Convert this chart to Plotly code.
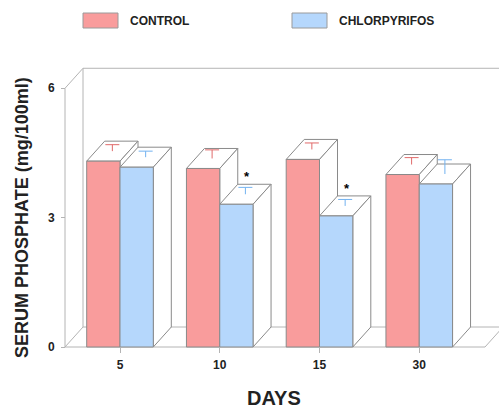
import plotly.graph_objects as go

# ---------------- data ----------------
days = ["5", "10", "15", "30"]
control = [4.31, 4.14, 4.35, 4.00]
chlorpyrifos = [4.17, 3.31, 3.04, 3.78]
control_err = [0.15, 0.20, 0.15, 0.16]
chlorpyrifos_err = [0.14, 0.16, 0.15, 0.33]
significant = [False, True, True, False]
y_ticks = [0, 3, 6]
series_names = ["CONTROL", "CHLORPYRIFOS"]

# ---------------- style / layout ----------------
W, H = 499, 410
ML, MR, MT, MB = 45, 0, 60, 55
plotW, plotH = W - ML - MR, H - MT - MB
PX_X = 99.75      # px per category unit
X0_PX = 120.0     # pixel of first category
PX_Y = 43.12      # px per value unit
Y0_PX = 347.0     # pixel of value 0

DEPTH_X = 18 / PX_X   # 3D depth offset in data units
DEPTH_Y = 20 / PX_Y
BAR_W = 33.3 / PX_X
CAP = 7 / PX_X        # half width of error caps
Y_MAX = 6
X_LEFT = (65 - X0_PX) / PX_X
X_RIGHT = (485 - X0_PX) / PX_X

C_CTRL = "#F99C9C"
C_CHLOR = "#B5D7FC"
E_CTRL = "#E06A6A"
E_CHLOR = "#72B2F0"
EDGE = "#8a8a8a"
FRAME = "#b4b4b4"
FONT = "Liberation Sans, Arial, sans-serif"

xr = [(ML - X0_PX) / PX_X, (W - MR - X0_PX) / PX_X]
yr = [(Y0_PX - (H - MB)) / PX_Y, (Y0_PX - MT) / PX_Y]


def px_to_paper(px, py):
    return (px - ML) / plotW, (H - MB - py) / plotH


def path(points):
    return "M " + " L ".join(f"{x},{y}" for x, y in points) + " Z"


shapes = []


def line(x0, y0, x1, y1, color=FRAME):
    shapes.append(dict(type="line", xref="x", yref="y", x0=x0, y0=y0, x1=x1, y1=y1,
                       line=dict(color=color, width=1), layer="below"))


# frame: floor, back wall, y axis
dx, dy = DEPTH_X, DEPTH_Y
line(X_LEFT, 0, X_RIGHT, 0)
line(X_LEFT, 0, X_LEFT + dx, dy)
line(X_LEFT + dx, dy, X_RIGHT + dx, dy)
line(X_RIGHT, 0, X_RIGHT + dx, dy)
line(X_LEFT + dx, dy, X_LEFT + dx, Y_MAX + dy)
line(X_LEFT + dx, Y_MAX + dy, X_RIGHT + dx, Y_MAX + dy)
line(X_RIGHT + dx, dy, X_RIGHT + dx, Y_MAX + dy)
line(X_LEFT, 0, X_LEFT, Y_MAX)
line(X_LEFT, Y_MAX, X_LEFT + dx, Y_MAX + dy)

fig = go.Figure()

bar_x = {0: [], 1: []}
for i in range(len(days)):
    for s, vals in enumerate([control, chlorpyrifos]):
        v = vals[i]
        x0 = i - BAR_W + s * BAR_W
        x1 = x0 + BAR_W
        bar_x[s].append((x0 + x1) / 2)
        # top face
        shapes.append(dict(type="path", xref="x", yref="y", layer="below",
                           path=path([(x0, v), (x1, v), (x1 + dx, v + dy), (x0 + dx, v + dy)]),
                           fillcolor="white", line=dict(color=EDGE, width=1)))
        # side face
        shapes.append(dict(type="path", xref="x", yref="y", layer="below",
                           path=path([(x1, 0), (x1, v), (x1 + dx, v + dy), (x1 + dx, dy)]),
                           fillcolor="white", line=dict(color=EDGE, width=1)))

for s, (vals, col) in enumerate([(control, C_CTRL), (chlorpyrifos, C_CHLOR)]):
    fig.add_trace(go.Bar(x=bar_x[s], y=vals, width=BAR_W, name=series_names[s],
                         marker=dict(color=col, line=dict(color=EDGE, width=1)),
                         showlegend=False, hoverinfo="skip"))

# upper error bars on the top faces (mid depth): stem + cap
for s, (vals, errs, col) in enumerate([(control, control_err, E_CTRL),
                                       (chlorpyrifos, chlorpyrifos_err, E_CHLOR)]):
    ex, ey = [], []
    for bx, v, e in zip(bar_x[s], vals, errs):
        cx, base = bx + dx / 2, v + dy / 2
        ex += [cx, cx, None, cx - CAP, cx + CAP, None]
        ey += [base, base + e, None, base + e, base + e, None]
    fig.add_trace(go.Scatter(x=ex, y=ey, mode="lines", line=dict(color=col, width=1),
                             showlegend=False, hoverinfo="skip"))

annotations = []
for i, sig in enumerate(significant):
    if sig:
        annotations.append(dict(x=bar_x[1][i] + dx / 2,
                                y=chlorpyrifos[i] + dy / 2 + chlorpyrifos_err[i],
                                xref="x", yref="y", text="<b>*</b>", showarrow=False,
                                yanchor="bottom", yshift=1, xshift=2,
                                font=dict(family=FONT, size=13, color="black")))

# legend (manual)
for (sx0, tx), name, col in zip([(83, 129), (292, 338)], series_names, [C_CTRL, C_CHLOR]):
    p0 = px_to_paper(sx0, 13)
    p1 = px_to_paper(sx0 + 35, 28)
    shapes.append(dict(type="rect", xref="paper", yref="paper", x0=p0[0], y0=p1[1],
                       x1=p1[0], y1=p0[1], fillcolor=col, line=dict(color="#9a9a9a", width=1)))
    tp = px_to_paper(tx - 1, 21)
    annotations.append(dict(x=tp[0], y=tp[1], xref="paper", yref="paper", xanchor="left",
                            yanchor="middle", text=f"<b>{name}</b>", showarrow=False,
                            font=dict(family=FONT, size=12, color="#222")))

# axis titles
tp = px_to_paper(22, 218)
annotations.append(dict(x=tp[0], y=tp[1], xref="paper", yref="paper", textangle=-90,
                        text="<b>SERUM PHOSPHATE (mg/100ml)</b>", showarrow=False,
                        xanchor="center", yanchor="middle",
                        font=dict(family=FONT, size=18, color="#222")))
tp = px_to_paper(274, 398)
annotations.append(dict(x=tp[0], y=tp[1], xref="paper", yref="paper",
                        text="<b>DAYS</b>", showarrow=False,
                        xanchor="center", yanchor="middle",
                        font=dict(family=FONT, size=20, color="#222")))

tick_font = dict(family=FONT, size=12, color="#222", weight="bold")
fig.update_layout(
    width=W, height=H, margin=dict(l=ML, r=MR, t=MT, b=MB, autoexpand=False),
    paper_bgcolor="white", plot_bgcolor="white", barmode="overlay",
    shapes=shapes, annotations=annotations,
    xaxis=dict(range=xr, tickvals=list(range(len(days))), ticktext=days,
               showgrid=False, zeroline=False, showline=False, automargin=False,
               ticks="outside", ticklen=5, tickcolor=FRAME,
               anchor="free", position=(H - MB - Y0_PX) / plotH,
               tickfont=tick_font, ticklabelstandoff=2),
    yaxis=dict(range=yr, tickvals=y_ticks, ticktext=[str(t) for t in y_ticks],
               showgrid=False, zeroline=False, showline=False, automargin=False,
               ticks="outside", ticklen=4, tickcolor=FRAME,
               anchor="free", position=(65 - ML) / plotW,
               tickfont=tick_font, ticklabelstandoff=4),
)

fig.write_html("out.html", config={"displayModeBar": False},
               post_script="document.body.style.margin='0';")
